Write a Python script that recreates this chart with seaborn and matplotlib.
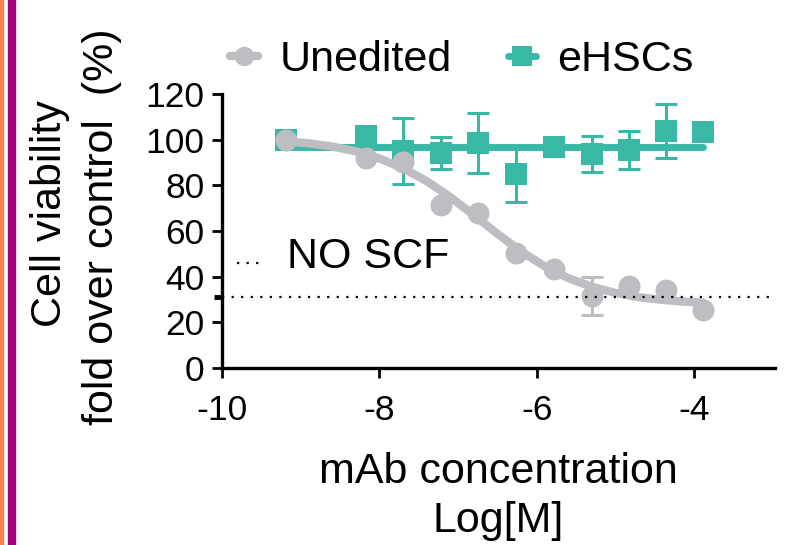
import numpy as np
import pandas as pd
import matplotlib
matplotlib.use("Agg")
import matplotlib.pyplot as plt
from matplotlib.lines import Line2D
from matplotlib.patches import Rectangle
import seaborn as sns

# ---------------- data ----------------
log_conc = [-9.19, -8.17, -7.70, -7.22, -6.74, -6.26, -5.78, -5.30, -4.83, -4.35, -3.88]
unedited = [100.0, 92.0, 90.2, 71.4, 67.9, 50.4, 43.4, 31.5, 35.9, 34.2, 25.4]
unedited_sd = [0, 0, 0, 0, 0, 0, 0, 8.2, 0, 0, 0]
ehscs = [99.7, 101.6, 95.2, 94.2, 98.6, 84.8, 97.0, 93.7, 95.5, 103.8, 103.4]
ehscs_sd = [0, 0, 14.5, 7.0, 13.0, 12.0, 0, 7.8, 8.3, 11.8, 0]

# fitted curves
fit_unedited_x = [-9.19, -8.9, -8.6, -8.3, -8.0, -7.7, -7.4, -7.1, -6.8, -6.5,
                  -6.2, -5.9, -5.6, -5.3, -5.0, -4.7, -4.4, -4.1, -3.88]
fit_unedited_y = [99.3, 98.4, 97.0, 94.9, 91.8, 87.5, 81.9, 74.9, 67.0, 58.8,
                  51.1, 44.6, 39.4, 35.6, 32.9, 31.0, 29.8, 29.0, 28.6]
fit_ehscs_x = [-9.19, -3.88]
fit_ehscs_y = [96.8, 96.8]

no_scf_level = 31.3

groups = ["Unedited", "eHSCs"]
x_ticks = [-10, -8, -6, -4]
y_ticks = [0, 20, 40, 60, 80, 100, 120]

GRAY = "#BDBEC2"
TEAL = "#3AB8A6"
palette = {"Unedited": GRAY, "eHSCs": TEAL}

pts = pd.DataFrame({
    "x": log_conc * 2,
    "y": unedited + ehscs,
    "sd": unedited_sd + ehscs_sd,
    "group": ["Unedited"] * len(log_conc) + ["eHSCs"] * len(log_conc),
})
fits = pd.DataFrame({
    "x": fit_ehscs_x + fit_unedited_x,
    "y": fit_ehscs_y + fit_unedited_y,
    "group": ["eHSCs"] * len(fit_ehscs_x) + ["Unedited"] * len(fit_unedited_x),
})

# ---------------- style ----------------
sns.set_style("ticks")
plt.rcParams["font.family"] = ["Liberation Sans", "DejaVu Sans"]
plt.rcParams["axes.linewidth"] = 2.4
plt.rcParams["text.color"] = "black"
plt.rcParams["axes.labelcolor"] = "black"

fig = plt.figure(figsize=(7.87, 5.45), dpi=100)
ax = fig.add_axes([222 / 787, 1 - 368 / 545, (775 - 222) / 787, (368 - 94) / 545])

# teal (drawn first), then gray on top
for g, lw, z in [("eHSCs", 5.0, 2), ("Unedited", 6.0, 4)]:
    sub = fits[fits.group == g]
    sns.lineplot(data=sub, x="x", y="y", color=palette[g], lw=lw, ax=ax,
                 legend=False, zorder=z, sort=False)
    sp = pts[(pts.group == g) & (pts.sd > 0)]
    ax.errorbar(sp["x"], sp["y"], yerr=sp["sd"], fmt="none", ecolor=palette[g],
                elinewidth=2.2, capsize=8, capthick=2.2, zorder=z)

sns.scatterplot(data=pts[pts.group == "eHSCs"], x="x", y="y", marker="s",
                color=TEAL, s=250, linewidth=0, ax=ax, legend=False, zorder=3)
sns.scatterplot(data=pts[pts.group == "Unedited"], x="x", y="y", marker="o",
                color=GRAY, s=250, linewidth=0, ax=ax, legend=False, zorder=5)

# NO SCF reference line
ax.axhline(no_scf_level, color="black", lw=1.6, ls=(0, (1, 3.3)), zorder=6)
ax.plot([-9.81, -9.50], [46.0, 46.0], color="black", lw=1.6, ls=(0, (1, 3.3)))
ax.text(-9.17, 43.8, "NO SCF", fontsize=31, va="baseline", ha="left", color="black")

# axes
ax.set_xlim(-10, -2.97)
ax.set_ylim(0, 120)
ax.set_xticks(x_ticks)
ax.set_xticklabels([str(v) for v in x_ticks])
ax.set_yticks(y_ticks)
ax.set_yticklabels([str(v) for v in y_ticks])
ax.set_yticks([no_scf_level], minor=True)
ax.tick_params(axis="both", which="major", labelsize=25.5, length=7.5, width=2.0,
               colors="black", pad=5)
ax.tick_params(axis="x", which="major", pad=11)
ax.tick_params(axis="y", which="minor", length=6, width=3.5, colors="black")
ax.tick_params(axis="x", which="minor", length=0)
for s in ["top", "right"]:
    ax.spines[s].set_visible(False)
for s in ["left", "bottom"]:
    ax.spines[s].set_color("black")
ax.set_xlabel("mAb concentration\nLog[M]", fontsize=31, linespacing=1.3,
              labelpad=18, color="black")
ax.set_ylabel("")

# y label (two separate lines as in the reference)
fig.text(50 / 787, 1 - 213.5 / 545, "Cell viability", rotation=90,
         fontsize=31, ha="center", va="center", color="black")
fig.text(102 / 787, 1 - 227 / 545, "fold over control  (%)", rotation=90,
         fontsize=31, ha="center", va="center", color="black")

# legend
handles = [
    Line2D([], [], color=GRAY, lw=6, marker="o", markersize=14, markeredgewidth=0),
    Line2D([], [], color=TEAL, lw=5, marker="s", markersize=15, markeredgewidth=0),
]
leg = ax.legend(handles, groups, loc="center", bbox_to_anchor=(462 / 787, 1 - 60 / 545),
                bbox_transform=fig.transFigure, ncol=2, frameon=False, fontsize=31,
                handlelength=0.65, handletextpad=0.5, columnspacing=1.3, borderpad=0,
                labelcolor="black")

# decorative left border stripes
fig.patches.append(Rectangle((0, 0), 3 / 787, 1, transform=fig.transFigure,
                             color="#FF7F4F", zorder=10))
fig.patches.append(Rectangle((7.5 / 787, 0), 7.5 / 787, 1, transform=fig.transFigure,
                             color="#A2037C", zorder=10))

fig.savefig("out.png", dpi=100)
